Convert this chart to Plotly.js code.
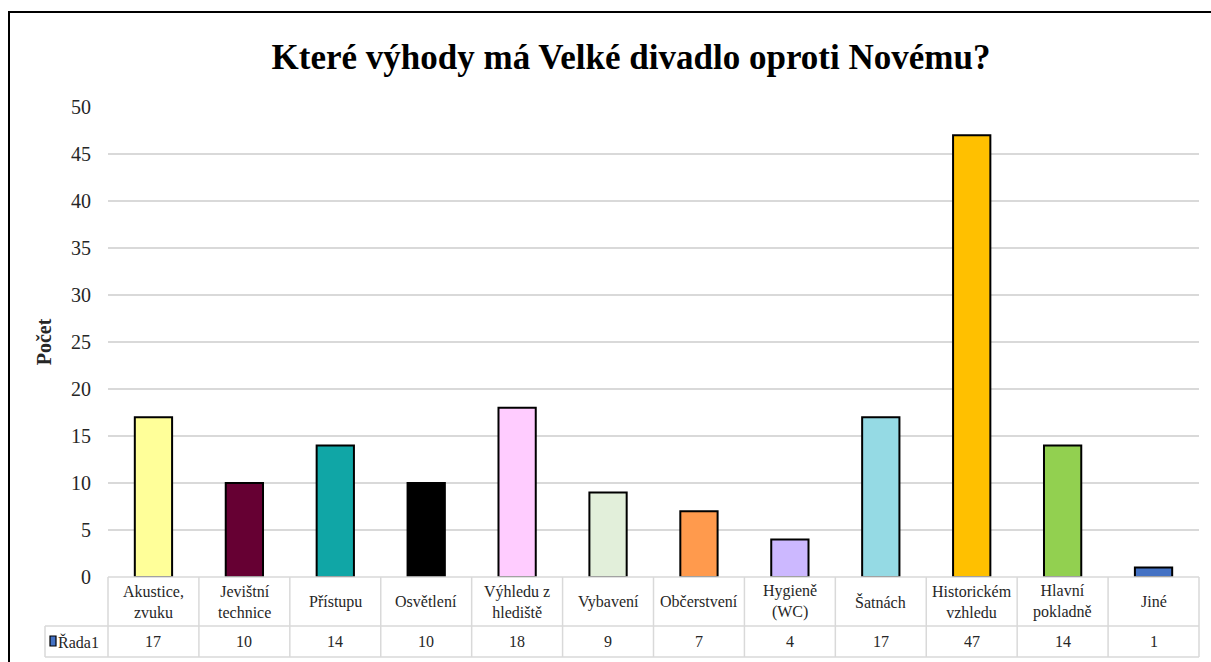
<!DOCTYPE html>
<html>
<head>
<meta charset="utf-8">
<script src="https://cdn.plot.ly/plotly-3.0.1.min.js"></script>
<style>html,body{margin:0;padding:0;background:#fff;}#chart{width:1211px;height:662px;}</style>
</head>
<body>
<div id="chart"></div>
<script>
// ---- data ----
const categories = ["Akustice, zvuku","Jevištní technice","Přístupu","Osvětlení","Výhledu z hlediště","Vybavení","Občerstvení","Hygieně (WC)","Šatnách","Historickém vzhledu","Hlavní pokladně","Jiné"];
const tickLabels = ["Akustice,<br>zvuku","Jevištní<br>technice","Přístupu","Osvětlení","Výhledu z<br>hlediště","Vybavení","Občerstvení","Hygieně<br>(WC)","Šatnách","Historickém<br>vzhledu","Hlavní<br>pokladně","Jiné"];
const values = [17,10,14,10,18,9,7,4,17,47,14,1];
const seriesName = "Řada1";
const barColors = ["#FFFF99","#660033","#10A6A6","#000000","#FFCCFF","#E2EFDA","#FF9A4D","#CCB8FF","#95DAE4","#FFC000","#92D050","#4472C4"];
const yTicks = [0,5,10,15,20,25,30,35,40,45,50];

// ---- layout geometry (pixels) ----
const W = 1211, H = 662;
const L = 108, R = 1199, T = 107, B = 577;
const px = p => (p - L) / (R - L);
const py = p => (B - p) / (B - T);
const serif = "Liberation Serif";
const gridCol = "#d9d9d9";
const txtCol = "#262626";

const shapes = [];
// outer frame (left + top)
shapes.push({type:"line", xref:"paper", yref:"paper", x0:px(9), x1:px(9), y0:py(12), y1:py(H+10), line:{color:"#000", width:2}});
shapes.push({type:"line", xref:"paper", yref:"paper", x0:px(8), x1:px(W+10), y0:py(12), y1:py(12), line:{color:"#000", width:2}});
// data table lines
const rowTop = 577, rowMid = 626, rowBot = 657, seriesLeft = 45;
shapes.push({type:"line", xref:"paper", yref:"paper", x0:0, x1:1, y0:py(rowTop), y1:py(rowTop), line:{color:gridCol, width:1.5}});
[rowMid,rowBot].forEach(r => shapes.push({type:"line", xref:"paper", yref:"paper", x0:px(seriesLeft), x1:1, y0:py(r), y1:py(r), line:{color:gridCol, width:1.5}}));
for (let i = 0; i <= categories.length; i++) {
  const xp = i / categories.length;
  shapes.push({type:"line", xref:"paper", yref:"paper", x0:xp, x1:xp, y0:py(rowTop), y1:py(rowBot), line:{color:gridCol, width:1.5}});
}
shapes.push({type:"line", xref:"paper", yref:"paper", x0:px(seriesLeft), x1:px(seriesLeft), y0:py(rowMid), y1:py(rowBot), line:{color:gridCol, width:1.5}});
// legend key in table
shapes.push({type:"rect", xref:"paper", yref:"paper", x0:px(50), x1:px(56), y0:py(646), y1:py(636), fillcolor:barColors[barColors.length-1], line:{color:"#000", width:1.2}});

const annotations = [];
categories.forEach((c, i) => {
  annotations.push({xref:"x", yref:"paper", x:c, y:py((rowTop+rowMid)/2), text:tickLabels[i], showarrow:false, xanchor:"center", yanchor:"middle", font:{family:serif, size:16, color:txtCol}});
  annotations.push({xref:"x", yref:"paper", x:c, y:py((rowMid+rowBot)/2), text:String(values[i]), showarrow:false, xanchor:"center", yanchor:"middle", font:{family:serif, size:16, color:txtCol}});
});
annotations.push({xref:"paper", yref:"paper", x:px(56), y:py((rowMid+rowBot)/2), text:seriesName, showarrow:false, xanchor:"left", yanchor:"middle", font:{family:serif, size:16, color:txtCol}});

const trace = {
  type:"bar",
  x:categories,
  y:values,
  name:seriesName,
  marker:{color:barColors, line:{color:"#000", width:2}},
  hoverinfo:"x+y"
};

const layout = {
  width:W, height:H,
  margin:{l:L, r:W-R, t:T, b:H-B, pad:0},
  paper_bgcolor:"#fff", plot_bgcolor:"#fff",
  showlegend:false,
  bargap:0.59,
  font:{family:serif, color:txtCol},
  title:{text:"Které výhody má Velké divadlo oproti Novému?", x:631/W, xanchor:"center", y:1-57/H, yanchor:"middle", yref:"container", font:{family:serif, size:35, color:"#000", weight:"bold"}},
  xaxis:{type:"category", range:[-0.5, categories.length-0.5], showticklabels:false, showgrid:false, zeroline:false, showline:false, ticks:"", fixedrange:true},
  yaxis:{range:[0,50], tickvals:yTicks, ticktext:yTicks.map(String), showgrid:true, gridcolor:gridCol, gridwidth:1.5, zeroline:false, showline:false, ticks:"", ticklabelstandoff:16,
         tickfont:{family:serif, size:20, color:txtCol},
         title:{text:"Počet", standoff:14, font:{family:serif, size:20, color:txtCol, weight:"bold"}}},
  shapes:shapes,
  annotations:annotations
};

Plotly.newPlot("chart", [trace], layout, {displayModeBar:false, staticPlot:true});
</script>
</body>
</html>
